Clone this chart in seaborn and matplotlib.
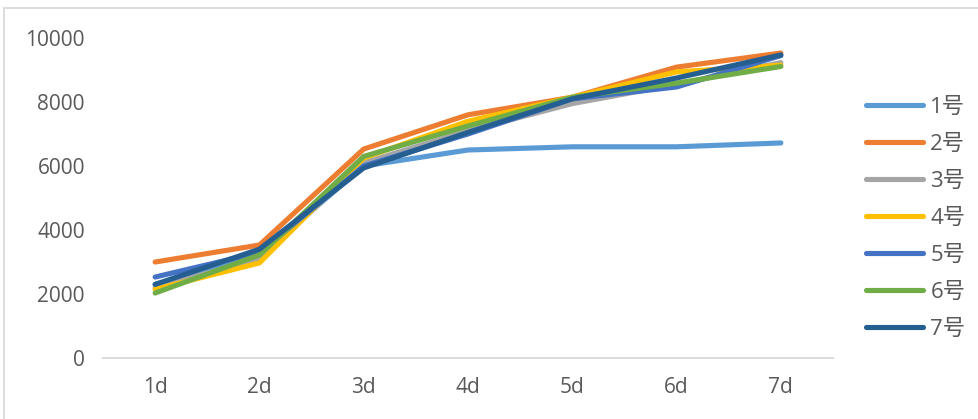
import matplotlib
matplotlib.use("Agg")
import matplotlib.pyplot as plt
import matplotlib.patches as mpatches
import seaborn as sns
import pandas as pd

days = ["1d", "2d", "3d", "4d", "5d", "6d", "7d"]
series_names = ["1号", "2号", "3号", "4号", "5号", "6号", "7号"]
s1 = [2300, 3200, 6000, 6500, 6600, 6600, 6720]
s2 = [3000, 3530, 6530, 7600, 8150, 9090, 9530]
s3 = [2200, 3100, 6100, 7100, 7950, 8550, 9230]
s4 = [2150, 2970, 6250, 7400, 8150, 8940, 9150]
s5 = [2530, 3300, 6000, 7000, 8100, 8470, 9450]
s6 = [2030, 3220, 6300, 7250, 8150, 8590, 9110]
s7 = [2300, 3400, 5940, 7050, 8100, 8750, 9470]
colors = ["#5B9BD5", "#ED7D31", "#A5A5A5", "#FFC000", "#4472C4", "#70AD47", "#255E91"]
yticks = [0, 2000, 4000, 6000, 8000, 10000]

all_series = [s1, s2, s3, s4, s5, s6, s7]
rows = []
for name, vals in zip(series_names, all_series):
    for d, v in zip(days, vals):
        rows.append({"day": d, "value": v, "series": name})
df = pd.DataFrame(rows)

sns.set_theme(style="white")
plt.rcParams["font.family"] = ["Open Sans", "Noto Sans CJK SC", "DejaVu Sans"]

fig = plt.figure(figsize=(9.79, 4.19), dpi=100)
ax = fig.add_axes([103 / 979, 1 - 358 / 419, (833 - 103) / 979, (358 - 38) / 419])

sns.lineplot(data=df, x="day", y="value", hue="series", hue_order=series_names,
             palette=colors, linewidth=3.7, ax=ax, sort=False)
for ln in ax.get_lines():
    ln.set_solid_capstyle("round")
    ln.set_solid_joinstyle("round")

ax.set_xlim(-0.5, 6.5)
ax.set_ylim(0, 10000)
ax.set_yticks(yticks)
ax.set_yticklabels([str(t) for t in yticks])
ax.set_xlabel("")
ax.set_ylabel("")
for sp in ["left", "right", "top"]:
    ax.spines[sp].set_visible(False)
ax.spines["bottom"].set_color("#d9d9d9")
ax.spines["bottom"].set_linewidth(1.3)
ax.tick_params(axis="both", length=0, labelsize=15, labelcolor="#595959")
ax.tick_params(axis="y", pad=13)
ax.tick_params(axis="x", pad=14)

handles, labels = ax.get_legend_handles_labels()
ax.legend_.remove()
for h in handles:
    h.set_solid_capstyle("round")
leg = fig.legend(handles, labels, loc="center left", bbox_to_anchor=(857 / 979, 1 - 218.5 / 419),
                 frameon=False, prop={"size": 16}, handlelength=2.55, handletextpad=0.35,
                 labelspacing=0.72, borderaxespad=0)
for t in leg.get_texts():
    t.set_color("#595959")

frame = mpatches.Rectangle((4 / 979, -0.1), 1.2, 1 - 8 / 419 + 0.1, transform=fig.transFigure,
                           fill=False, edgecolor="#d9d9d9", linewidth=1.3, clip_on=False)
fig.patches.append(frame)

fig.savefig("out.png", dpi=100)
